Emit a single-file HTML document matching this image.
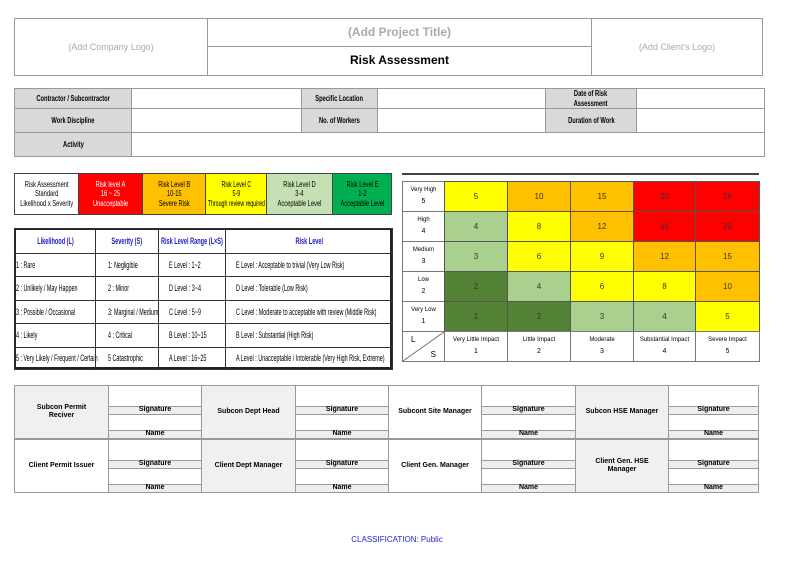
<!DOCTYPE html>
<html><head><meta charset="utf-8"><style>
body{margin:0;width:794px;height:561px;background:#fff;position:relative;overflow:hidden;font-family:"Liberation Sans",sans-serif}
.c{position:absolute;display:flex;align-items:center;justify-content:center;text-align:center;box-sizing:border-box;border:1px solid #999;line-height:1.15;white-space:nowrap;overflow:visible}
.s{display:inline-block;transform:scaleX(.72);transform-origin:center}
.l{justify-content:flex-start;padding-left:2px}
.l .s{transform-origin:left}
.b{font-weight:bold}
.g{background:#d9d9d9}
</style></head><body>
<div class="c" style="left:14px;top:18px;width:194px;height:58px;color:#aaa;font-size:9px">(Add Company Logo)</div>
<div class="c" style="left:207px;top:18px;width:385px;height:29px;color:#aaa;font-size:12px;font-weight:bold">(Add Project Title)</div>
<div class="c b" style="left:207px;top:46px;width:385px;height:30px;font-size:12px">Risk Assessment</div>
<div class="c" style="left:591px;top:18px;width:172px;height:58px;color:#aaa;font-size:9px">(Add Client's Logo)</div>
<div style="position:absolute;left:14px;top:88px;width:751px;height:69px;border:1px solid #555;box-sizing:border-box"></div>
<div class="c g b" style="left:14px;top:88px;width:118px;height:21px;font-size:8px"><span class="s">Contractor / Subcontractor</span></div>
<div class="c" style="left:131px;top:88px;width:171px;height:21px"></div>
<div class="c g b" style="left:301px;top:88px;width:77px;height:21px;font-size:8px"><span class="s">Specific Location</span></div>
<div class="c" style="left:377px;top:88px;width:169px;height:21px"></div>
<div class="c g b" style="left:545px;top:88px;width:92px;height:21px;font-size:8px"><span class="s">Date of Risk<br>Assessment</span></div>
<div class="c" style="left:636px;top:88px;width:129px;height:21px"></div>
<div class="c g b" style="left:14px;top:108px;width:118px;height:25px;font-size:8px"><span class="s">Work Discipline</span></div>
<div class="c" style="left:131px;top:108px;width:171px;height:25px"></div>
<div class="c g b" style="left:301px;top:108px;width:77px;height:25px;font-size:8px"><span class="s">No. of Workers</span></div>
<div class="c" style="left:377px;top:108px;width:169px;height:25px"></div>
<div class="c g b" style="left:545px;top:108px;width:92px;height:25px;font-size:8px"><span class="s">Duration of Work</span></div>
<div class="c" style="left:636px;top:108px;width:129px;height:25px"></div>
<div class="c g b" style="left:14px;top:132px;width:118px;height:25px;font-size:8px"><span class="s">Activity</span></div>
<div class="c" style="left:131px;top:132px;width:634px;height:25px"></div>
<div style="position:absolute;left:14px;top:173px;width:378px;height:42px;border:1px solid #444;box-sizing:border-box"></div>
<div class="c" style="left:14px;top:173px;width:65px;height:42px;font-size:8px;border-color:#444"><span class="s">Risk Assessment<br>Standard<br>Likelihood x Severity</span></div>
<div class="c" style="left:78px;top:173px;width:65px;height:42px;font-size:8px;background:#ff0000;color:#fff;border-color:#444"><span class="s">Risk level A<br>16 ~ 25<br>Unacceptable</span></div>
<div class="c" style="left:142px;top:173px;width:64px;height:42px;font-size:8px;background:#ffc000;border-color:#444"><span class="s">Risk Level B<br>10-15<br>Severe Risk</span></div>
<div class="c" style="left:205px;top:173px;width:62px;height:42px;font-size:8px;background:#ffff00;border-color:#444"><span class="s" style="transform:scaleX(.66)">Risk Level C<br>5-9<br>Through review required</span></div>
<div class="c" style="left:266px;top:173px;width:67px;height:42px;font-size:8px;background:#c6e0b4;border-color:#444"><span class="s">Risk Level D<br>3-4<br>Acceptable Level</span></div>
<div class="c" style="left:332px;top:173px;width:60px;height:42px;font-size:8px;background:#00b050;border-color:#444"><span class="s">Risk Level E<br>1-2<br>Acceptable Level</span></div>
<div style="position:absolute;left:14px;top:228px;width:378px;height:141px;border:2px solid #222;box-sizing:border-box"></div>
<div id="lt"></div>
<div style="position:absolute;left:402px;top:173px;width:357px;height:2px;background:#444"></div>
<div style="position:absolute;left:402px;top:181px;width:358px;height:181px;border:1px solid #888;box-sizing:border-box"></div>
<div id="mx"></div>
<script>
var lx=[14,95,158,225,392],ly=[228,253,276,300,323,347,369];
var T=[['Likelihood (L)','Severity (S)','Risk Level Range (L×S)','Risk Level'],
['1 : Rare','1: Negligible','E Level : 1~2','E Level : Acceptable to trivial (Very Low Risk)'],
['2 : Unlikely / May Happen','2 : Minor','D Level : 3~4','D Level : Tolerable (Low Risk)'],
['3 : Possible / Occasional','3: Marginal / Medium','C Level : 5~9','C Level : Moderate to acceptable with review (Middle Risk)'],
['4 : Likely','4 : Critical','B Level : 10~15','B Level : Substantial (High Risk)'],
['5 : Very Likely / Frequent / Certain','5 Catastrophic','A Level : 16~25','A Level : Unacceptable / Intolerable (Very High Risk, Extreme)']];
var pad=[1,12,10,10],t='';
for(var r=0;r<6;r++)for(var c=0;c<4;c++){
 var st='left:'+lx[c]+'px;top:'+ly[r]+'px;width:'+(lx[c+1]-lx[c]+1)+'px;height:'+(ly[r+1]-ly[r]+1)+'px;border-color:#333;';
 if(r==0)t+='<div class="c b" style="'+st+'font-size:9px;color:#2020c0"><span class="s" style="transform:scaleX(.62)">'+T[r][c]+'</span></div>';
 else t+='<div class="c l" style="'+st+'font-size:9px;padding-left:'+pad[c]+'px"><span class="s" style="transform:scaleX(.6)">'+T[r][c]+'</span></div>';
}
document.getElementById('lt').innerHTML=t;
var cols=[444,507,570,633,695,759],rows=[181,211,241,271,301,331];
var Y='#ffff00',O='#ffc000',R='#ff0000',LG='#a9d08e',DG='#548235';
var data=[[[5,Y],[10,O],[15,O],[20,R],[25,R]],[[4,LG],[8,Y],[12,O],[16,R],[20,R]],[[3,LG],[6,Y],[9,Y],[12,O],[15,O]],[[2,DG],[4,LG],[6,Y],[8,Y],[10,O]],[[1,DG],[2,DG],[3,LG],[4,LG],[5,Y]]];
var lab=['Very High','High','Medium','Low','Very Low'];
var bot=['Very Little Impact','Little Impact','Moderate','Substantial Impact','Severe Impact'];
var h='';
for(var r=0;r<5;r++){
 h+='<div class="c" style="left:402px;top:'+rows[r]+'px;width:43px;height:31px;font-size:6px;border-color:#777;flex-direction:column;gap:5px"><span>'+lab[r]+'</span><span style="font-size:7px">'+(5-r)+'</span></div>';
 for(var c=0;c<5;c++){h+='<div class="c" style="left:'+cols[c]+'px;top:'+rows[r]+'px;width:'+(cols[c+1]-cols[c]+1)+'px;height:31px;font-size:8px;background:'+data[r][c][1]+';border-color:#555;color:#333">'+data[r][c][0]+'</div>';}
}
h+='<div class="c" style="left:402px;top:331px;width:43px;height:31px;border-color:#777"><svg width="41" height="29" style="position:absolute;left:0;top:0"><line x1="0" y1="29" x2="41" y2="0" stroke="#777"/></svg><span style="position:absolute;left:8px;top:3px;font-size:8px">L</span><span style="position:absolute;right:8px;bottom:2px;font-size:8px">S</span></div>';
for(var c=0;c<5;c++){h+='<div class="c" style="left:'+cols[c]+'px;top:331px;width:'+(cols[c+1]-cols[c]+1)+'px;height:31px;font-size:6px;border-color:#777;flex-direction:column;gap:5px"><span>'+bot[c]+'</span><span style="font-size:7px">'+(c+1)+'</span></div>';}
var sx=[14,108,201,295,388,481,575,668,758];
var sl=[['Subcon  Permit<br>Reciver',1],['Subcon Dept Head',1],['Subcont Site Manager',0],['Subcon HSE Manager',1],['Client Permit Issuer',0],['Client Dept Manager',1],['Client Gen. Manager',0],['Client Gen. HSE<br>Manager',1]];
var sy=[385,439];
for(var r=0;r<2;r++){for(var k=0;k<4;k++){
 var L=sl[r*4+k],x0=sx[k*2],x1=sx[k*2+1],x2=sx[k*2+2],y=sy[r];
 h+='<div class="c b" style="left:'+x0+'px;top:'+y+'px;width:'+(x1-x0+1)+'px;height:54px;font-size:7px;border-color:#999;background:'+(L[1]?'#f0f0f0':'#fff')+'">'+L[0]+'</div>';
 h+='<div class="c" style="left:'+x1+'px;top:'+y+'px;width:'+(x2-x1+1)+'px;height:54px;border-color:#999"></div>';
 h+='<div class="c b" style="left:'+x1+'px;top:'+(y+21)+'px;width:'+(x2-x1+1)+'px;height:9px;font-size:7px;border-color:#999;background:#eee">Signature</div>';
 h+='<div class="c b" style="left:'+x1+'px;top:'+(y+45)+'px;width:'+(x2-x1+1)+'px;height:9px;font-size:7px;border-color:#999;background:#eee">Name</div>';
}}
document.getElementById('mx').innerHTML=h;
</script>
<div style="position:absolute;left:0;width:794px;top:535px;text-align:center;font-size:8px;color:#1f1fd0">CLASSIFICATION: Public</div>
</body></html>
